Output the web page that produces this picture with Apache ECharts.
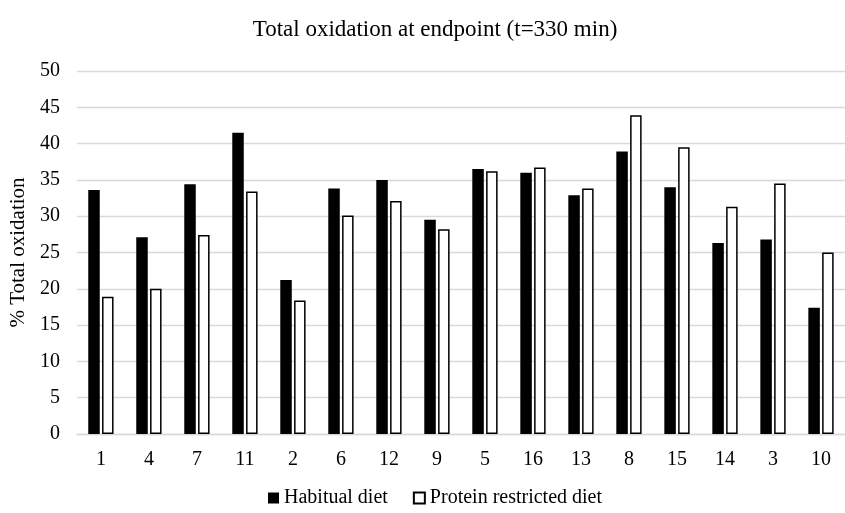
<!DOCTYPE html>
<html>
<head>
<meta charset="utf-8">
<script src="https://cdn.jsdelivr.net/npm/echarts@6/dist/echarts.min.js"></script>
<style>
html,body{margin:0;padding:0;background:#fff;}
#chart{width:845px;height:513px;}
</style>
</head>
<body>
<div id="chart"></div>
<script>
const categories = ['1','4','7','11','2','6','12','9','5','16','13','8','15','14','3','10'];
const habitual = [33.6, 27.1, 34.4, 41.5, 21.2, 33.8, 35.0, 29.5, 36.5, 36.0, 32.9, 38.9, 34.0, 26.3, 26.8, 17.4];
const proteinRestricted = [18.9, 20.0, 27.4, 33.4, 18.4, 30.1, 32.1, 28.2, 36.2, 36.7, 33.8, 43.9, 39.5, 31.3, 34.5, 25.0];
const yTicks = {min: 0, max: 50, interval: 5};
const seriesNames = ['Habitual diet', 'Protein restricted diet'];

const FONT = 'Liberation Serif';
const legendText = {fontFamily: FONT, fontSize: 20, color: '#000', fontWeight: 'normal'};
const chart = echarts.init(document.getElementById('chart'), null, {renderer: 'canvas'});
chart.setOption({
  animation: false,
  backgroundColor: '#fff',
  textStyle: {fontFamily: FONT},
  title: {
    text: 'Total oxidation at endpoint (t=330 min)',
    left: 430, top: 13, textAlign: 'center',
    textStyle: {fontFamily: FONT, fontSize: 23, fontWeight: 'normal', color: '#000'}
  },
  legend: {
    data: seriesNames,
    left: 263, top: 483,
    icon: 'rect',
    itemWidth: 11, itemHeight: 11, itemGap: 25,
    textStyle: legendText
  },
  grid: {left: 75, top: 71, width: 781, height: 363},
  xAxis: {
    type: 'category',
    data: categories,
    axisLine: {lineStyle: {color: '#d9d9d9', width: 1.3}},
    axisTick: {show: false},
    axisLabel: {fontFamily: FONT, fontSize: 20, color: '#000', margin: 16}
  },
  yAxis: {
    type: 'value',
    min: yTicks.min, max: yTicks.max, interval: yTicks.interval,
    name: '% Total oxidation',
    nameLocation: 'middle', nameGap: 47, nameRotate: 90,
    nameTextStyle: {fontFamily: FONT, fontSize: 21, color: '#000'},
    axisLine: {show: false},
    axisTick: {show: false},
    axisLabel: {fontFamily: FONT, fontSize: 20, color: '#000', margin: 17},
    splitLine: {lineStyle: {color: '#d9d9d9', width: 1.3}}
  },
  series: [
    {
      name: seriesNames[0], type: 'bar', data: habitual,
      barWidth: 11.5, barGap: '20%',
      itemStyle: {color: '#000'}
    },
    {
      name: seriesNames[1], type: 'bar', data: proteinRestricted,
      barWidth: 11.5,
      itemStyle: {color: '#fff', borderColor: '#000', borderWidth: 1.5}
    }
  ]
});
</script>
</body>
</html>
